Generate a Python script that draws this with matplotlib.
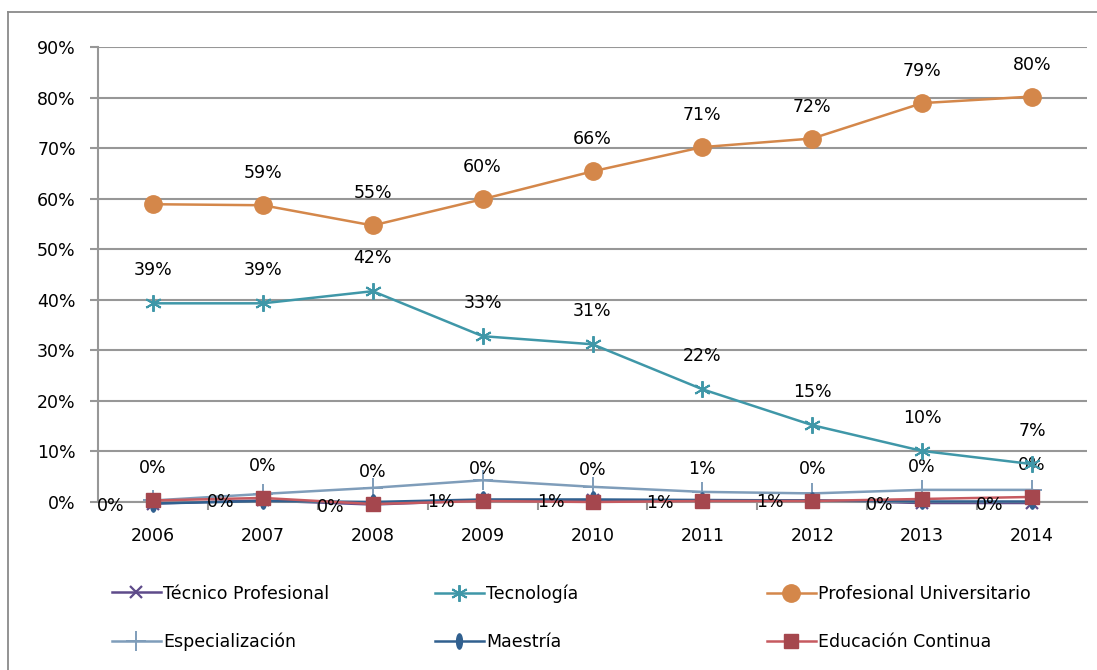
import numpy as np
import matplotlib
matplotlib.use('Agg')
import matplotlib.pyplot as plt
from matplotlib.lines import Line2D
from matplotlib.path import Path

plt.rcParams['font.family'] = ['DejaVu Sans']

years = ['2006', '2007', '2008', '2009', '2010', '2011', '2012', '2013', '2014']

# values in percent
tecnico_prof = [-0.3, 0.3, -0.5, 0.3, 0.3, 0.2, 0.3, -0.2, -0.2]
tecnologia = [39.3, 39.3, 41.7, 32.8, 31.2, 22.3, 15.2, 10.1, 7.5]
prof_univ = [58.9, 58.7, 54.7, 59.9, 65.4, 70.2, 71.9, 78.9, 80.2]
especializacion = [0.3, 1.6, 2.8, 4.3, 3.0, 2.0, 1.7, 2.4, 2.4]
maestria = [-0.3, 0.2, 0.0, 0.5, 0.5, 0.4, 0.3, 0.1, 0.1]
educ_continua = [0.3, 0.8, -0.4, 0.2, 0.0, 0.2, 0.2, 0.6, 1.0]

# data labels as shown on the chart
lbl_prof_univ = ['', '59%', '55%', '60%', '66%', '71%', '72%', '79%', '80%']
lbl_tecnologia = ['39%', '39%', '42%', '33%', '31%', '22%', '15%', '10%', '7%']
lbl_educ = ['0%', '0%', '0%', '0%', '0%', '1%', '0%', '0%', '0%']
lbl_tecnico = ['0%', '0%', '0%', '1%', '1%', '1%', '1%', '0%', '0%']

c_tecnico = '#5E4B8A'
c_tecno = '#3F97A8'
c_prof = '#D4874A'
c_espec = '#7F9DBA'
c_maes = '#31608F'
c_educ = '#A5474E'
c_educ_line = '#C65A60'
grid_c = '#979797'

W, H = 1097, 670
fig = plt.figure(figsize=(W / 100, H / 100), dpi=100)
ax = fig.add_axes([98 / W, 1 - 502 / H, (1087 - 98) / W, (502 - 47) / H])

x = np.arange(len(years))
ellipse = Path([(0.38 * np.cos(t), np.sin(t)) for t in np.linspace(0, 2 * np.pi, 40)])
six_star = (6, 2, 0)

fs = 12.5
lines = []
# drawn first, mostly hidden under the other near-zero series
lines.append(ax.plot(x, np.array(tecnico_prof) / 100, color=c_tecnico, lw=1.8, marker='x',
                     ms=9, mew=1.6, label='Técnico Profesional', clip_on=False, zorder=2)[0])
lines.append(ax.plot(x, np.array(tecnologia) / 100, color=c_tecno, lw=1.8, marker=six_star,
                     ms=12, mew=1.4, label='Tecnología', clip_on=False, zorder=4)[0])
lines.append(ax.plot(x, np.array(prof_univ) / 100, color=c_prof, lw=1.8, marker='o',
                     ms=12.5, mec=c_prof, label='Profesional Universitario', clip_on=False, zorder=4)[0])
lines.append(ax.plot(x, np.array(especializacion) / 100, color=c_espec, lw=1.8, marker='+',
                     ms=14, mew=1.4, label='Especialización', clip_on=False, zorder=3)[0])
lines.append(ax.plot(x, np.array(maestria) / 100, color=c_maes, lw=1.8, marker=ellipse,
                     ms=11, mec=c_maes, label='Maestría', clip_on=False, zorder=4)[0])
lines.append(ax.plot(x, np.array(educ_continua) / 100, color=c_educ_line, lw=1.8, marker='s',
                     ms=10, mfc=c_educ, mec=c_educ, label='Educación Continua', clip_on=False, zorder=5)[0])

# data labels
for i in range(len(years)):
    if lbl_prof_univ[i]:
        ax.annotate(lbl_prof_univ[i], (x[i], prof_univ[i] / 100), xytext=(0, 32),
                    textcoords='offset pixels', ha='center', va='center', fontsize=fs,
                    annotation_clip=False)
    ax.annotate(lbl_tecnologia[i], (x[i], tecnologia[i] / 100), xytext=(0, 33),
                textcoords='offset pixels', ha='center', va='center', fontsize=fs,
                annotation_clip=False)
    ax.annotate(lbl_educ[i], (x[i], educ_continua[i] / 100), xytext=(0, 32),
                textcoords='offset pixels', ha='center', va='center', fontsize=fs,
                annotation_clip=False)
    ax.annotate(lbl_tecnico[i], (x[i], tecnico_prof[i] / 100), xytext=(-42, -2),
                textcoords='offset pixels', ha='center', va='center', fontsize=fs, zorder=6,
                annotation_clip=False)

ax.set_xlim(-0.5, len(years) - 0.5)
ax.set_ylim(0, 0.9)
ax.set_yticks(np.arange(0, 0.91, 0.1))
ax.set_yticklabels(['%d%%' % v for v in range(0, 91, 10)])
ax.set_xticks(x)
ax.set_xticklabels(years)
ax.set_xticks(np.arange(0.5, len(years) - 0.5, 1), minor=True)
ax.tick_params(axis='x', which='major', length=0, pad=18, labelsize=fs)
ax.tick_params(axis='x', which='minor', length=6, width=1.5, color=grid_c, direction='out')
ax.tick_params(axis='y', length=6, width=1.5, color=grid_c, pad=10, labelsize=fs)
ax.yaxis.grid(True, color=grid_c, lw=1.5)
ax.set_axisbelow(True)
for s in ['top', 'right']:
    ax.spines[s].set_visible(False)
ax.spines['left'].set_color(grid_c)
ax.spines['left'].set_linewidth(1.5)
ax.spines['bottom'].set_color(grid_c)
ax.spines['bottom'].set_linewidth(1.5)

# legend in three columns
cols = [(112, [0, 3]), (435, [1, 4]), (767, [2, 5])]
for xpx, idx in cols:
    leg = fig.legend([lines[k] for k in idx], [lines[k].get_label() for k in idx],
                     loc='center left', bbox_to_anchor=(xpx / W, 1 - 618 / H),
                     frameon=False, fontsize=fs, handlelength=2.8, handletextpad=0.15,
                     borderpad=0, borderaxespad=0, labelspacing=1.75)

# chart border (top and left edges visible)
fig.add_artist(Line2D([8 / W, 1], [1 - 12 / H, 1 - 12 / H], transform=fig.transFigure,
                      color='#8A8A8A', lw=1.3))
fig.add_artist(Line2D([8 / W, 8 / W], [0, 1 - 12 / H], transform=fig.transFigure,
                      color='#8A8A8A', lw=1.3))

fig.savefig('out.png', dpi=100)
